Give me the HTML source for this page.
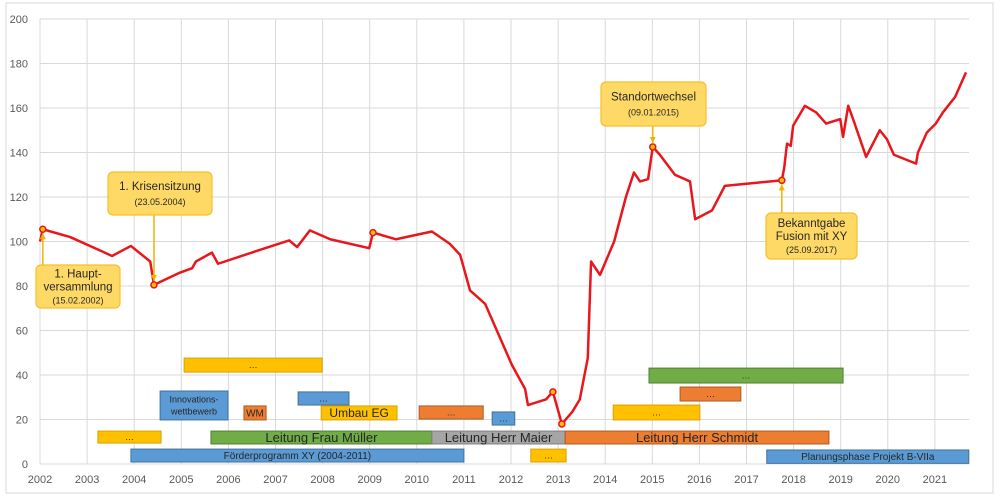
<!DOCTYPE html>
<html><head><meta charset="utf-8"><style>
body{margin:0;background:#fff;}
svg{display:block;font-family:"Liberation Sans",sans-serif;}
</style></head><body>
<svg id="chart" width="1000" height="500" viewBox="0 0 1000 500">
<rect x="6" y="3" width="987" height="490" fill="#fff" stroke="#d9d9d9"/>
<g id="grid"></g><g id="bars"></g><g id="line"></g><g id="callouts"></g><g id="axes"></g>
</svg>
<script>
const years=[2002,2003,2004,2005,2006,2007,2008,2009,2010,2011,2012,2013,2014,2015,2016,2017,2018,2019,2020,2021];
const yTicks=[0,20,40,60,80,100,120,140,160,180,200];
const lineX=[2002.00,2002.06,2002.64,2003.27,2003.53,2003.93,2004.34,2004.42,2004.97,2005.23,2005.31,2005.65,2005.78,2006.78,2007.29,2007.46,2007.73,2008.16,2008.99,2009.07,2009.56,2010.32,2010.70,2010.92,2011.13,2011.45,2012.02,2012.30,2012.36,2012.74,2012.89,2013.08,2013.30,2013.46,2013.63,2013.70,2013.89,2014.19,2014.44,2014.61,2014.74,2014.91,2015.01,2015.16,2015.48,2015.80,2015.91,2016.27,2016.54,2017.75,2017.80,2017.86,2017.94,2017.99,2018.24,2018.48,2018.69,2018.99,2019.05,2019.16,2019.28,2019.54,2019.83,2019.98,2020.13,2020.60,2020.64,2020.83,2021.02,2021.17,2021.43,2021.66];
const lineY=[100,105.5,102,96,93.5,98,91,80.5,86,88,91,95,90,97,100.5,97.5,105,101,97,104,101,104.5,99,94,78,72,44.5,33.7,26.5,29,32.4,18,23.4,29,47.6,91,85,100,120,131,127,128,142.5,139,130,127,110,114,125,127.5,133,144,143,152,161,158,153,155,147,161,154,138,150,146,139,135,140,149,153,158,165,176];
const markX=[2002.06,2004.42,2009.07,2012.89,2013.08,2015.01,2017.75];
const markY=[105.5,80.5,104,32.4,18,142.5,127.5];
const barLabels=["…","Innovations-|wettbewerb","WM","…","Umbau EG","…","…","Leitung Frau Müller","Leitung Herr Maier","Leitung Herr Schmidt","Förderprogramm XY (2004-2011)","…","…","…","…","…","Planungsphase Projekt B-VIIa"];
const barStart=[2005.06,2004.55,2006.33,2007.48,2007.97,2010.05,2003.23,2005.63,2010.32,2013.15,2003.93,2014.93,2015.59,2014.17,2011.60,2012.42,2017.43];
const barEnd=[2007.99,2005.99,2006.80,2008.56,2009.58,2011.41,2004.57,2010.32,2013.15,2018.75,2011.00,2019.05,2016.88,2016.01,2012.08,2013.17,2021.72];
const barLow=[41.3,19.8,19.8,26.5,19.8,20.2,9.4,9.0,9.0,9.0,0.9,36.4,28.3,19.8,17.5,0.9,0.3];
const barHigh=[47.6,32.8,26.1,32.4,26.1,26.1,14.8,14.8,14.8,14.8,6.7,43.1,34.6,26.5,23.4,6.7,6.3];
const barColor=["y","b","o","b","y","o","y","g","gr","o","b","g","o","y","b","y","b"];
const barFont=[9,9,10,9,12,9,9,13,13,13,10,9,9,9,9,9,10];
const calloutText=[["1. Haupt-","versammlung","(15.02.2002)"],["1. Krisensitzung","(23.05.2004)"],["Standortwechsel","(09.01.2015)"],["Bekanntgabe","Fusion mit XY","(25.09.2017)"]];
const calloutYear=[2002.06,2004.42,2015.01,2017.75];
const calloutVal=[105.5,80.5,142.5,127.5];

const X=v=>40+(v-2002)*47.1, Y=v=>464-v*2.225;
const NS="http://www.w3.org/2000/svg";
function mk(t,a,p){const e=document.createElementNS(NS,t);for(const k in a)e.setAttribute(k,a[k]);p.appendChild(e);return e;}
const grid=document.getElementById('grid'),axes=document.getElementById('axes');
yTicks.forEach(v=>{
 const l=mk('line',{x1:40,x2:969,y1:Y(v),y2:Y(v),stroke:'#d9d9d9'},grid);
 
 
 const t=mk('text',{x:28,y:Y(v)+4,'text-anchor':'end','font-size':11,fill:'#595959'},axes);t.textContent=v;
 
 
});
years.forEach(v=>{
 const l=mk('line',{x1:X(v),x2:X(v),y1:Y(200),y2:Y(0),stroke:'#d9d9d9'},grid);
 
 
 const t=mk('text',{x:X(v),y:483,'text-anchor':'middle','font-size':11,fill:'#595959'},axes);t.textContent=v;
 
 
});
const cols={y:['#ffc000','#d9a200'],b:['#5b9bd5','#41719c'],o:['#ed7d31','#ae5a21'],g:['#70ad47','#507e32'],gr:['#a5a5a5','#7f7f7f']};
const bars=document.getElementById('bars');
barLabels.forEach((lab,i)=>{
 const x1=X(barStart[i]),x2=X(barEnd[i]),y1=Y(barHigh[i]),y2=Y(barLow[i]);
 const c=cols[barColor[i]];
 const r=mk('rect',{x:x1,y:y1,width:x2-x1,height:y2-y1,fill:c[0],stroke:c[1],'stroke-width':1},bars);
 
 
 const lines=lab.split('|');
 lines.forEach((s,j)=>{
  const t=mk('text',{x:(x1+x2)/2,y:(y1+y2)/2+barFont[i]*0.35+(j-(lines.length-1)/2)*12,'text-anchor':'middle','font-size':barFont[i],fill:'#262626'},bars);
  t.textContent=s;
  
  
 });
});
const lg=document.getElementById('line');
const p=mk('polyline',{points:lineX.map((v,i)=>X(v)+','+Y(lineY[i])).join(' '),fill:'none',stroke:'#e8171c','stroke-width':2.5,'stroke-linejoin':'round'},lg);


markX.forEach((v,i)=>{
 const c=mk('circle',{cx:X(v),cy:Y(markY[i]),r:3,fill:'#ffc000',stroke:'#e8171c','stroke-width':1.5},lg);
 
 
});
const boxes=[[36,265,84,43,'up'],[108,172,104,43,'down'],[601,82,105,44,'down'],[766,213,91,46,'up']];
const cg=document.getElementById('callouts');
calloutText.forEach((lines,i)=>{
 const [bx,by,bw,bh,dir]=boxes[i];const px=X(calloutYear[i]),py=Y(calloutVal[i]);
 const ay=dir==='up'?by:by+bh, ty=dir==='up'?py+4:py-4;
 const l=mk('line',{x1:px,y1:ay,x2:px,y2:ty,stroke:'#f0b400','stroke-width':1.5},cg);
 
 
 const s=dir==='up'?-1:1;
 mk('path',{d:`M${px-3},${ty-s*6} L${px+3},${ty-s*6} L${px},${ty} Z`,fill:'#f0b400'},cg);
 const r=mk('rect',{x:bx,y:by,width:bw,height:bh,rx:5,fill:'#ffd966',stroke:'#f5c02c','stroke-width':1.2},cg);
 
 
 const n=lines.length, lh=n===3?13:15, top=by+bh/2-(n-1)*lh/2;
 lines.forEach((s2,j)=>{
  const small=j===n-1;
  const t=mk('text',{x:bx+bw/2,y:top+j*lh+4,'text-anchor':'middle','font-size':small?9:11.5,fill:'#262626'},cg);
  t.textContent=s2;
  
  
 });
});
</script>
</body></html>
